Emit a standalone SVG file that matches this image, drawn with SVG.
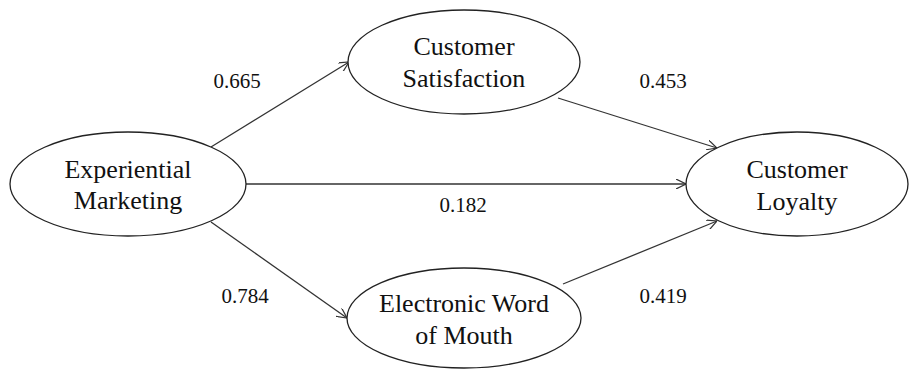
<svg xmlns="http://www.w3.org/2000/svg" width="910" height="370" viewBox="0 0 910 370">
<style>
.n{fill:#fff;stroke:#222;stroke-width:1.3}
.t{font-family:'Liberation Serif','Times New Roman',serif;font-size:26px;fill:#111;text-anchor:middle}
.l{font-family:'Liberation Serif','Times New Roman',serif;font-size:21px;fill:#111;text-anchor:middle}
.c{stroke:#333;stroke-width:1.3;fill:none;marker-end:url(#a)}
</style>
<defs>
<marker id="a" viewBox="0 0 10 10" refX="10" refY="5" markerWidth="10" markerHeight="10" markerUnits="userSpaceOnUse" orient="auto">
<path d="M0,0 L10,5 L0,10" fill="none" stroke="#333" stroke-width="1.2"/>
</marker>
</defs>
<rect width="910" height="370" fill="#fff"/>
<g id="connectors">
<line class="c" x1="211" y1="147" x2="349" y2="62"/>
<line class="c" x1="245" y1="184" x2="686" y2="184"/>
<line class="c" x1="211" y1="222" x2="347" y2="318"/>
<line class="c" x1="558" y1="98" x2="717" y2="148"/>
<line class="c" x1="563" y1="284" x2="717" y2="221"/>
<text class="l" x="237" y="88">0.665</text>
<text class="l" x="663" y="88">0.453</text>
<text class="l" x="463" y="212">0.182</text>
<text class="l" x="245" y="303">0.784</text>
<text class="l" x="663" y="303">0.419</text>
</g>
<g id="experiential-marketing">
<ellipse class="n" cx="128" cy="184" rx="118" ry="52"/>
<text class="t" x="128" y="178">Experiential</text>
<text class="t" x="128" y="209">Marketing</text>
</g>
<g id="customer-satisfaction">
<ellipse class="n" cx="464" cy="62" rx="116" ry="52"/>
<text class="t" x="464" y="55">Customer</text>
<text class="t" x="464" y="87">Satisfaction</text>
</g>
<g id="electronic-word-of-mouth">
<ellipse class="n" cx="464" cy="318" rx="117" ry="50"/>
<text class="t" x="464" y="312">Electronic Word</text>
<text class="t" x="464" y="344">of Mouth</text>
</g>
<g id="customer-loyalty">
<ellipse class="n" cx="797" cy="184" rx="111" ry="52"/>
<text class="t" x="797" y="178">Customer</text>
<text class="t" x="797" y="210">Loyalty</text>
</g>
</svg>
